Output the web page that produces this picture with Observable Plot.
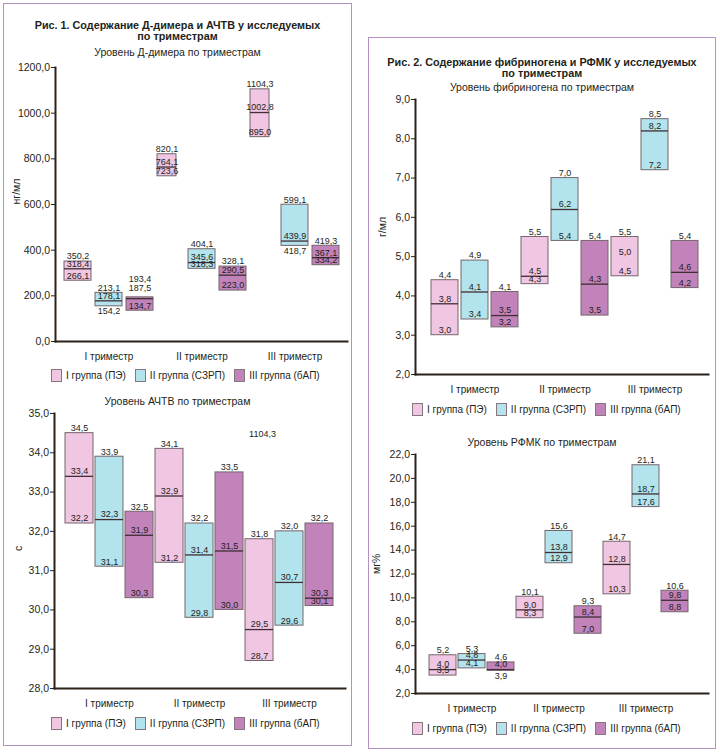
<!DOCTYPE html>
<html><head><meta charset="utf-8">
<script src="https://cdn.jsdelivr.net/npm/d3@7"></script>
<script src="https://cdn.jsdelivr.net/npm/@observablehq/plot@0.6"></script>
<style>
body{margin:0;width:720px;height:753px;position:relative;background:#fff;font-family:"Liberation Sans",Arial,sans-serif;color:#231f20;overflow:hidden}
.frame{position:absolute;border:1.5px solid #b590c3;box-sizing:border-box}
.title{position:absolute;font-weight:bold;font-size:10.8px;line-height:11px;text-align:center;white-space:nowrap}
.sub{position:absolute;font-size:10.5px;line-height:12px;text-align:center;white-space:nowrap}
.legend{position:absolute;display:flex;align-items:center;height:14px;font-size:10px;gap:9px;white-space:nowrap}
.legend span.item{display:flex;align-items:center}
.sw{display:inline-block;width:11px;height:13px;border:1px solid #85777d;box-sizing:border-box;margin-right:4px}
.chart{position:absolute}
</style></head>
<body>
<div class="frame" style="left:3px;top:3px;width:349px;height:743px"></div>
<div class="frame" style="left:368px;top:37px;width:348px;height:712px"></div>

<div class="title" style="left:3px;width:349px;top:20px">Рис. 1. Содержание Д-димера и АЧТВ у исследуемых<br>по триместрам</div>
<div class="sub" style="left:3px;width:349px;top:46px">Уровень Д-димера по триместрам</div>
<div class="sub" style="left:3px;width:349px;top:395px">Уровень АЧТВ по триместрам</div>

<div class="title" style="left:368px;width:348px;top:57px">Рис. 2. Содержание фибриногена и РФМК у исследуемых<br>по триместрам</div>
<div class="sub" style="left:368px;width:348px;top:81px">Уровень фибриногена по триместрам</div>
<div class="sub" style="left:368px;width:348px;top:436px">Уровень РФМК по триместрам</div>

<div id="c1" class="chart" style="left:0px;top:57px"></div>
<div id="c2" class="chart" style="left:0px;top:403px"></div>
<div id="c3" class="chart" style="left:360px;top:89px"></div>
<div id="c4" class="chart" style="left:360px;top:444px"></div>

<div id="l1" class="legend" style="left:51px;top:368px"></div>
<div id="l2" class="legend" style="left:51px;top:716px"></div>
<div id="l3" class="legend" style="left:412px;top:402px"></div>
<div id="l4" class="legend" style="left:412px;top:721px"></div>

<script>
const trimesters = ["I триместр", "II триместр", "III триместр"];
const groups = ["I группа (ПЭ)", "II группа (СЗРП)", "III группа (бАП)"];
const groupColors = ["#f0c6e2", "#b3e3ec", "#c283bb"];

// order: I trimester (groups I, II, III), II trimester (...), III trimester (...)
const ddimerMin = [266.1, 154.2, 134.7, 723.6, 318.3, 223.0, 895.0, 418.7, 334.2];
const ddimerMed = [318.4, 178.1, 187.5, 764.1, 345.6, 290.5, 1002.8, 439.9, 367.1];
const ddimerMax = [350.2, 213.1, 193.4, 820.1, 404.1, 328.1, 1104.3, 599.1, 419.3];
const ddimerTicks = [0, 200, 400, 600, 800, 1000, 1200];

const aptvMin = [32.2, 31.1, 30.3, 31.2, 29.8, 30.0, 28.7, 29.6, 30.1];
const aptvMed = [33.4, 32.3, 31.9, 32.9, 31.4, 31.5, 29.5, 30.7, 30.3];
const aptvMax = [34.5, 33.9, 32.5, 34.1, 32.2, 33.5, 31.8, 32.0, 32.2];
const aptvTicks = [28, 29, 30, 31, 32, 33, 34, 35];

const fibMin = [3.0, 3.4, 3.2, 4.3, 5.4, 3.5, 4.5, 7.2, 4.2];
const fibMed = [3.8, 4.1, 3.5, 4.5, 6.2, 4.3, 5.0, 8.2, 4.6];
const fibMax = [4.4, 4.9, 4.1, 5.5, 7.0, 5.4, 5.5, 8.5, 5.4];
const fibTicks = [2, 3, 4, 5, 6, 7, 8, 9];

const rfmkMin = [3.5, 4.1, 3.9, 8.3, 12.9, 7.0, 10.3, 17.6, 8.8];
const rfmkMed = [4.0, 4.8, 4.0, 9.0, 13.8, 8.4, 12.8, 18.7, 9.8];
const rfmkMax = [5.2, 5.3, 4.6, 10.1, 15.6, 9.3, 14.7, 21.1, 10.6];
const rfmkTicks = [2, 4, 6, 8, 10, 12, 14, 16, 18, 20, 22];

const fmt = d => d.toFixed(1).replace(".", ",");
const axisColor = "#2b2119";
const boxStroke = "#74666c";
const medStroke = "#3f2f33";
const textColor = "#231f20";
const FONT = "'Liberation Sans', Arial, sans-serif";

const keys = [];
trimesters.forEach(t => groups.forEach(g => keys.push(t + "|" + g)));
const middleKeys = trimesters.map(t => t + "|" + groups[1]);

function makeChart(o) {
  const data = keys.map((key, i) => ({
    key, group: groups[i % 3], lo: o.min[i], md: o.med[i], hi: o.max[i],
    narrow: (o.narrow || []).includes(i),
    line: !(o.noMedian || []).includes(i)
  }));
  const y0 = o.ticks[0], y1 = o.ticks[o.ticks.length - 1];
  const innerH = o.height - o.mt - o.mb;
  const k = (y1 - y0) / innerH; // data units per pixel
  const labels = [];
  data.forEach(d => {
    const gapLow = (d.md - d.lo) / k, gapHigh = (d.hi - d.md) / k;
    if (gapHigh < 4) {
      labels.push({key: d.key, narrow: d.narrow, y: d.hi + 9 * k, t: d.md});
      labels.push({key: d.key, narrow: d.narrow, y: d.hi + 18 * k, t: d.hi});
    } else {
      labels.push({key: d.key, narrow: d.narrow, y: d.hi + 5 * k, t: d.hi});
      labels.push({key: d.key, narrow: d.narrow, y: d.md + 5 * k, t: d.md});
    }
    labels.push({key: d.key, narrow: d.narrow, y: gapLow >= 5.7 ? d.lo + 5 * k : d.lo - 5 * k, t: d.lo});
  });
  const narrowInset = 8;
  const marks = [
    Plot.barY(data, {filter: d => !d.narrow, x: "key", y1: "lo", y2: "hi", fill: "group", stroke: boxStroke, strokeWidth: 1}),
    Plot.barY(data, {filter: d => d.narrow, x: "key", y1: "lo", y2: "hi", fill: "group", stroke: boxStroke, strokeWidth: 1, insetRight: narrowInset}),
    Plot.tickY(data, {filter: d => !d.narrow && d.line, x: "key", y: "md", stroke: medStroke, strokeWidth: 1.3}),
    Plot.tickY(data, {filter: d => d.narrow && d.line, x: "key", y: "md", stroke: medStroke, strokeWidth: 1.3, insetRight: narrowInset}),
    Plot.text(labels, {filter: d => !d.narrow, x: "key", y: "y", text: d => fmt(d.t), fontSize: 9, fill: textColor, lineAnchor: "middle"}),
    Plot.text(labels, {filter: d => d.narrow, x: "key", y: "y", text: d => fmt(d.t), fontSize: 9, fill: textColor, lineAnchor: "middle", dx: -narrowInset / 2}),
    Plot.axisY({ticks: o.ticks, tickFormat: fmt, tickSize: 4, tickPadding: 1.5, stroke: axisColor, fill: textColor, fontSize: 10.5, label: null}),
    Plot.axisX({ticks: middleKeys, tickFormat: key => key.split("|")[0], tickSize: 0, tickPadding: 11, fill: textColor, fontSize: 10, label: null}),
    Plot.frame({anchor: "left", stroke: axisColor, strokeWidth: 2}),
    Plot.frame({anchor: "bottom", stroke: axisColor, strokeWidth: 2}),
    Plot.text([o.yLabel], {frameAnchor: "left", rotate: -90, dx: o.labelDx, fontSize: 10.5, fill: textColor})
  ];
  if (o.extra) marks.push(o.extra);
  return Plot.plot({
    width: o.width, height: o.height,
    marginTop: o.mt, marginBottom: o.mb, marginLeft: o.ml, marginRight: o.mr,
    style: {background: "transparent", fontFamily: FONT, fontSize: "10.5px", color: textColor, overflow: "visible"},
    x: {type: "band", domain: keys, range: o.xRange, paddingInner: o.pInner, paddingOuter: 0, axis: null},
    y: {domain: [y0, y1], axis: null},
    color: {domain: groups, range: groupColors},
    marks
  });
}

document.getElementById("c1").append(makeChart({
  min: ddimerMin, med: ddimerMed, max: ddimerMax, ticks: ddimerTicks, yLabel: "нг/мл",
  width: 352, height: 306, mt: 10, mb: 22, ml: 55, mr: 5, xRange: [60, 343], pInner: 0.12,
  labelDx: -39, narrow: [3, 6]
}));

document.getElementById("c2").append(makeChart({
  min: aptvMin, med: aptvMed, max: aptvMax, ticks: aptvTicks, yLabel: "с",
  width: 352, height: 307, mt: 10, mb: 22, ml: 54, mr: 7, xRange: [64, 333], pInner: 0.07,
  labelDx: -36,
  extra: Plot.text([ddimerMax[6]], {x: () => keys[6], frameAnchor: "top", dy: 17, dx: 3, text: d => fmt(d), fontSize: 9, fill: textColor})
}));

document.getElementById("c3").append(makeChart({
  min: fibMin, med: fibMed, max: fibMax, ticks: fibTicks, yLabel: "г/мл",
  width: 352, height: 307, mt: 10, mb: 22, ml: 55, mr: 4, xRange: [67, 341], pInner: 0.107,
  labelDx: -33, noMedian: [6]
}));

document.getElementById("c4").append(makeChart({
  min: rfmkMin, med: rfmkMed, max: rfmkMax, ticks: rfmkTicks, yLabel: "мг%",
  width: 352, height: 271, mt: 10, mb: 22, ml: 55, mr: 4, xRange: [66, 331], pInner: 0.054,
  labelDx: -39
}));

function legend(id) {
  const el = document.getElementById(id);
  groups.forEach((g, i) => {
    const item = document.createElement("span");
    item.className = "item";
    const sw = document.createElement("span");
    sw.className = "sw";
    sw.style.background = groupColors[i];
    item.append(sw, document.createTextNode(g));
    el.append(item);
  });
}
["l1", "l2", "l3", "l4"].forEach(legend);
</script>
</body></html>
